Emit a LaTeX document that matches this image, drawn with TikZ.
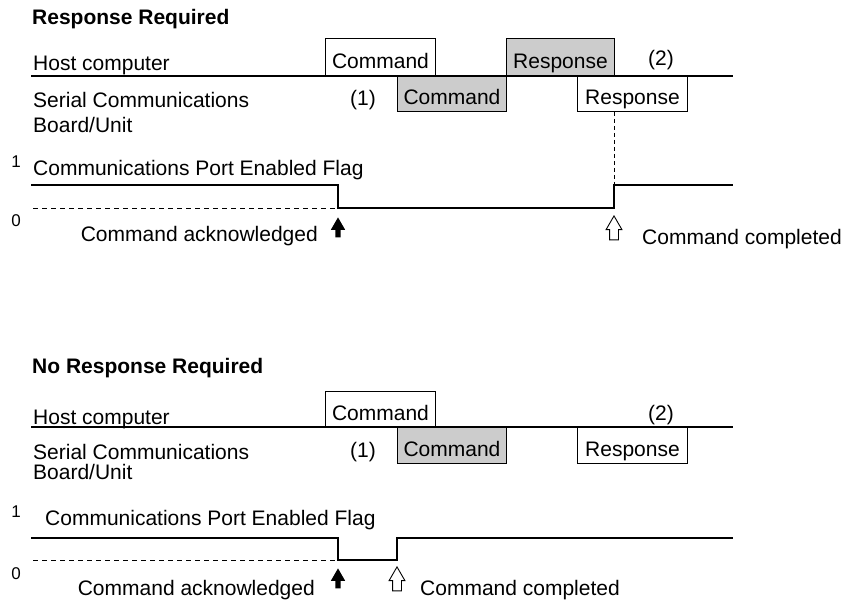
\documentclass[tikz,border=0pt]{standalone}
\usepackage{fontspec}
\setmainfont{Liberation Sans}
\usetikzlibrary{shapes.arrows, positioning}

\begin{document}
\begin{tikzpicture}[x=1pt, y=-1pt,
    font=\fontsize{21}{25}\selectfont,
    lbl/.style={inner sep=0pt},
    num/.style={inner sep=0pt, font=\fontsize{17}{20}\selectfont},
    title/.style={inner sep=0pt, font=\fontsize{21}{25}\selectfont\bfseries},
    slot/.style={draw, line width=0.9pt, inner sep=0pt, text height=22pt, text depth=0pt},
    grey/.style={fill=black!20},
    sig/.style={line width=1.2pt},
    dsig/.style={line width=1pt, dash pattern=on 5pt off 4pt},
    vdash/.style={line width=1pt, dash pattern=on 4pt off 3pt},
    ackarrow/.style={single arrow, shape border rotate=90, fill=black, inner sep=2.5pt,
        minimum height=20pt, single arrow head extend=4.5pt, single arrow tip angle=60, anchor=tip},
    donearrow/.style={single arrow, shape border rotate=90, draw, fill=white, line width=0.9pt,
        inner sep=4pt, minimum height=24pt, single arrow head extend=3.5pt, single arrow tip angle=60, anchor=tip}]
    \useasboundingbox (0,0) rectangle (853,599);

    % 1. Response required: host and board lines
    \node[title, anchor=base west] (title1) at (32,25) {Response Required};
    \draw[sig] (31,76) -- (733,76);
    \node[lbl, anchor=base west] (host1) at (33,71) {Host computer};
    \node[slot, fill=white, anchor=south west, minimum width=110pt, minimum height=37pt] (hcmd1) at (325,76) {Command};
    \node[slot, grey, anchor=south west, minimum width=108pt, minimum height=37pt] (hrsp1) at (506,76) {Response};
    \node[lbl] (two1) at (661,60) {(2)};
    \node[lbl, anchor=north west, align=left] (board1) at (33,92) {Serial Communications\\Board/Unit};
    \node[lbl] (one1) at (363,100) {(1)};
    \node[slot, grey, anchor=north west, minimum width=109pt, minimum height=35pt] (bcmd1) at (397,76) {Command};
    \node[slot, fill=white, anchor=north west, minimum width=110pt, minimum height=35pt] (brsp1) at (577,76) {Response};

    % 2. Flag signal
    \node[num] (hi1) at (16,162) {1};
    \node[lbl, anchor=base west] (flag1) at (33,175) {Communications Port Enabled Flag};
    \draw[sig] (31,185) -- (338,185) -- (338,208) -- (614,208) -- (614,185) -- (733,185);
    \draw[dsig] (33,208) -- (336,208);
    \node[num] (lo1) at (16,221) {0};
    \coordinate (rise1) at (614,185);
    \draw[vdash] (brsp1.south -| rise1) -- (rise1);

    % 3. Arrows and notes
    \node[ackarrow] (ack1) at (338,217) {};
    \node[lbl, anchor=base east] (acktxt1) at (318,241) {Command acknowledged};
    \node[donearrow] (done1) at (614,215) {};
    \node[lbl, anchor=base west] (donetxt1) at (642,244) {Command completed};

    % 4. No response required: host and board lines
    \node[title, anchor=base west] (title2) at (32,373) {No Response Required};
    \draw[sig] (31,427) -- (733,427);
    \node[lbl, anchor=base west] (host2) at (33,424) {Host computer};
    \node[slot, fill=white, anchor=south west, minimum width=110pt, minimum height=35pt] (hcmd2) at (325,427) {Command};
    \node[lbl] (two2) at (661,415) {(2)};
    \node[lbl, anchor=north west, align=left, font=\fontsize{21}{20}\selectfont] (board2) at (33,444) {Serial Communications\\Board/Unit};
    \node[lbl] (one2) at (363,452) {(1)};
    \node[slot, grey, anchor=north west, minimum width=109pt, minimum height=36pt] (bcmd2) at (397,427) {Command};
    \node[slot, fill=white, anchor=north west, minimum width=110pt, minimum height=36pt] (brsp2) at (577,427) {Response};

    % 5. Flag signal
    \node[num] (hi2) at (16,512) {1};
    \node[lbl, anchor=base west] (flag2) at (45,525) {Communications Port Enabled Flag};
    \draw[sig] (31,538) -- (338,538) -- (338,560) -- (397,560) -- (397,538) -- (733,538);
    \draw[dsig] (33,560) -- (336,560);
    \node[num] (lo2) at (16,574) {0};

    % 6. Arrows and notes
    \node[ackarrow] (ack2) at (338,568) {};
    \node[lbl, anchor=base east] (acktxt2) at (315,595) {Command acknowledged};
    \node[donearrow] (done2) at (397,566) {};
    \node[lbl, anchor=base west] (donetxt2) at (420,595) {Command completed};
\end{tikzpicture}
\end{document}
